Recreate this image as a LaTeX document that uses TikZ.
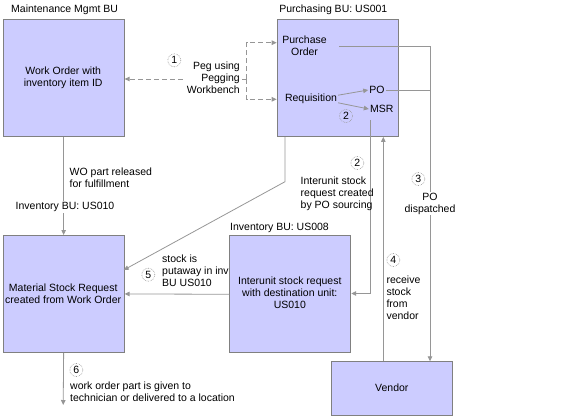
\documentclass[tikz,border=0pt]{standalone}
\usepackage{fontspec}
\setmainfont{Liberation Sans}
\usetikzlibrary{arrows.meta}
\definecolor{boxfill}{RGB}{204,204,255}
\definecolor{boxline}{RGB}{128,128,128}
\definecolor{lngray}{RGB}{150,150,150}
\tikzset{
  every node/.style={font=\fontsize{10.5}{12}\selectfont, inner sep=1pt},
  boxnode/.style={draw=boxline, fill=boxfill, line width=0.9pt, align=center, anchor=north west},
  conn/.style={draw=lngray, line width=0.8pt},
  tip/.style={-{Triangle[length=5pt,width=4.5pt]}},
  dconn/.style={conn, dash pattern=on 5pt off 3pt},
  numc/.style={circle, draw=lngray, densely dotted, line width=0.6pt, minimum size=13pt, inner sep=0pt},
  lbl/.style={fill=white, inner sep=1.5pt},
}
\begin{document}
\begin{tikzpicture}[x=1pt,y=-1pt]
\useasboundingbox (0,0) rectangle (588,418);
% boxes
\node[boxnode, minimum width=121pt, minimum height=117pt] (wo) at (2.7,19) {};
\node[align=center] (wotext) at (63.2,78) {Work Order with\\inventory item ID};
\node[boxnode, minimum width=121pt, minimum height=117pt] (pur) at (276.7,19) {};
\node[boxnode, minimum width=121pt, minimum height=117pt] (ms) at (2.7,235) {};
\node[align=center] (mstext) at (63.2,293.3) {Material Stock Request\\created from Work Order};
% labels of groups
\node[anchor=west] (lmm) at (10,9.5) {Maintenance Mgmt BU};
\node (lpu) at (333.3,9.5) {Purchasing BU: US001};
% text inside purchasing
\node[align=center] (potext) at (304.5,46) {Purchase\\Order};
\node (req) at (311,99) {Requisition};
\node (po) at (377,90) {PO};
\node (msr) at (381.7,109) {MSR};
\node[numc] (c2a) at (346,116) {2};
\draw[conn,tip] (req.8) -- (po.west);
\draw[conn,tip] (req.-8) -- (msr.west);
% pegging
\coordinate (pegj) at (246.7,79);
\coordinate (pegt) at (246.7,42.7);
\coordinate (pegb) at (246.7,99.3);
\draw[dconn,tip] (pegj) -- (wo.east |- pegj);
\draw[dconn,tip] (pegj) -- (pegt) -- (pur.west |- pegt);
\draw[dconn,tip] (pegj) -- (pegb) -- (pur.west |- pegb);
\node[lbl, align=right, anchor=east, inner sep=1pt] (peg) at (241,78) {Peg using\\Pegging\\Workbench};
\node[numc] (c1) at (174.3,60.3) {1};
% WO -> MS
\draw[conn,tip] (wo.south) -- (ms.north);
\node[lbl] (linv10) at (65,207) {Inventory BU: US010};
\node[align=left, anchor=west] (wopart) at (68.5,177.5) {WO part released\\for fulfillment};
% purchasing -> MS diagonal
\coordinate (pbend) at (285,181.7);
\coordinate (msin) at (123.7,270);
\draw[conn,tip] (pur.south -| pbend) -- (pbend) -- (msin);
% MSR -> interunit
\coordinate (mcor) at (370,293.5);
% interunit box and vendor
\node[align=left, anchor=west] (stock) at (161,270.3) {stock is\\putaway in inv\\BU US010};
\node[boxnode, minimum width=121pt, minimum height=117pt] (iu) at (229.3,235.3) {};
\node[align=center] (iutext) at (289.8,292.7) {Interunit stock request\\with destination unit:\\US010};
\node (linv08) at (279.5,227.7) {Inventory BU: US008};
\node[boxnode, minimum width=121pt, minimum height=54pt] (vend) at (331.3,361.3) {};
\node (vendtext) at (391.8,387.7) {Vendor};
\draw[conn,tip] ([yshift=-6pt]mcor |- msr.south) -- (mcor) -- (iu.east |- mcor);
\node[numc] (c2b) at (357.3,163) {2};
\node[align=left, anchor=west] (iutxt) at (299.5,193.7) {Interunit stock\\request created\\by PO sourcing};
% vendor -> purchasing
\coordinate (rcx) at (383.3,0);
\draw[conn,tip] (vend.north -| rcx) -- (pur.south -| rcx);
\node[numc] (c4) at (393.3,260) {4};
\node[align=left, anchor=west] (recv) at (385.3,298) {receive\\stock\\from\\vendor};
% PO dispatched
\coordinate (pstart) at (339.3,46.3);
\coordinate (pdx) at (430,46.3);
\draw[conn,tip] (pstart) -- (pdx) -- (vend.north -| pdx);
\draw[conn] (po.east) -- (pdx |- po.east);
\node[lbl, align=center, inner sep=1pt] (podisp) at (430,203.7) {PO\\dispatched};
\node[numc] (c3) at (418.3,179) {3};
% interunit -> MS
\draw[conn,tip] (iu.west) -- (ms.east);
\node[numc] (c5) at (148.3,274.7) {5};
% MS -> out
\coordinate (outend) at (63.2,405);
\draw[conn,tip] (ms.south) -- (outend);
\node[numc] (c6) at (76.3,370) {6};
\node[align=left, anchor=west] (wopg) at (69,391.7) {work order part is given to\\technician or delivered to a location};
\end{tikzpicture}
\end{document}
